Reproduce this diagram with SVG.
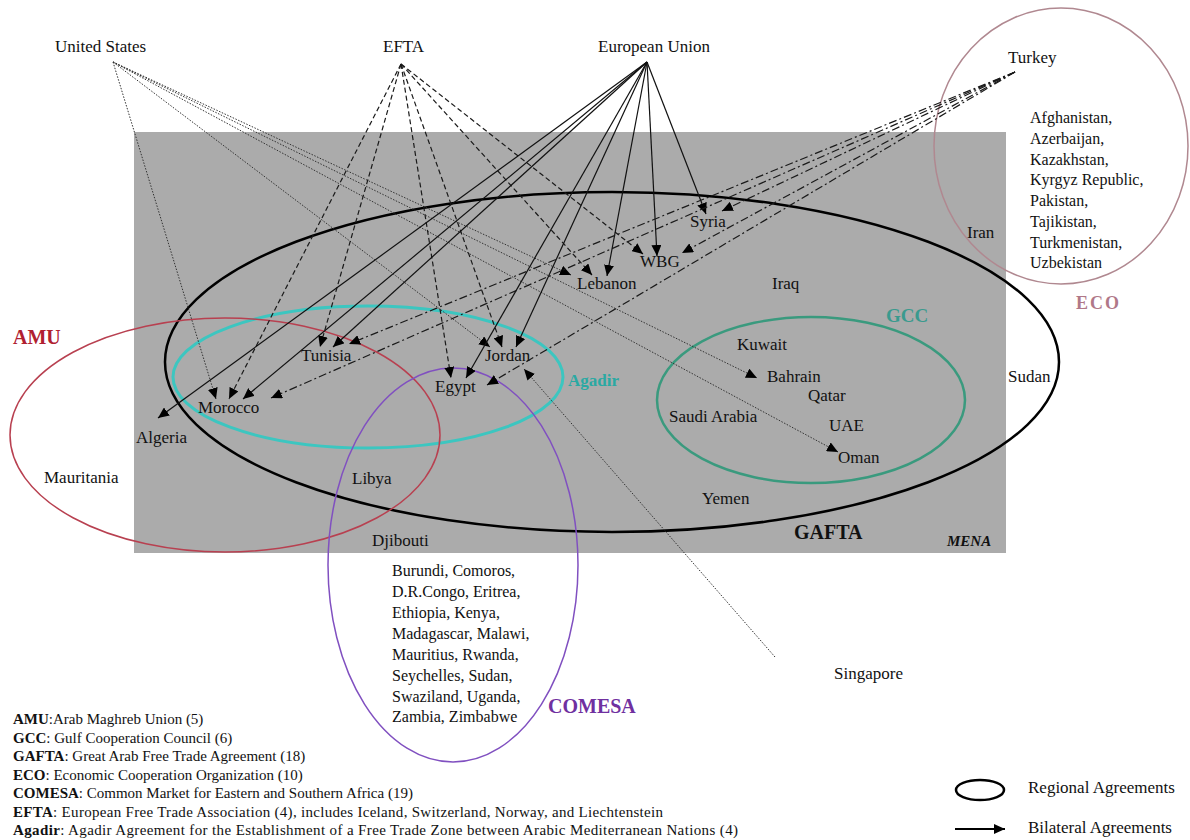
<svg xmlns="http://www.w3.org/2000/svg" width="1190" height="840" viewBox="0 0 1190 840">
<style>
text{font-family:"Liberation Serif","Times New Roman",serif;fill:#111}
.lbl{font-size:17px}
.lst{font-size:16px}
.leg{font-size:15px}
.reg{fill:none}
.us{stroke:#333;stroke-width:1;stroke-dasharray:1.5 1.5;fill:none}
.efta{stroke:#1a1a1a;stroke-width:1.2;stroke-dasharray:5 3;fill:none}
.eu{stroke:#111;stroke-width:1.2;fill:none}
.tr{stroke:#1a1a1a;stroke-width:1.2;stroke-dasharray:8 3 2 3;fill:none}
.sg{stroke:#333;stroke-width:1;stroke-dasharray:1.5 1.5;fill:none}
</style>
<defs>
<marker id="ah" markerUnits="userSpaceOnUse" markerWidth="12" markerHeight="10" refX="11" refY="5" orient="auto">
<path d="M0,0 L11,5 L0,10 z" fill="#000"/>
</marker>
</defs>
<rect width="1190" height="840" fill="#fff"/>
<g id="mena"><rect x="134" y="132" width="872" height="421" fill="#ababab"/>
<text x="947" y="546" style="font-size:15px;font-weight:bold;font-style:italic">MENA</text></g>

<g id="gafta"><ellipse class="reg" cx="612" cy="362" rx="447" ry="170" stroke="#000" stroke-width="2.5"/>
<text x="794" y="539" style="font-size:20px;font-weight:bold">GAFTA</text></g>
<g id="agadir"><ellipse class="reg" cx="368" cy="377" rx="195" ry="71" stroke="#3cc6c0" stroke-width="3"/>
<text x="568" y="386" style="font-size:17px;font-weight:bold;fill:#2aa9a3">Agadir</text></g>
<g id="gcc"><ellipse class="reg" cx="811" cy="400" rx="154" ry="83" stroke="#3a9a7e" stroke-width="2.5"/>
<text x="886" y="322" style="font-size:19px;font-weight:bold;fill:#3a9a8e">GCC</text></g>
<g id="amu"><ellipse class="reg" cx="225" cy="435" rx="215" ry="117" stroke="#b84050" stroke-width="1.5"/>
<text x="13" y="344" style="font-size:20px;font-weight:bold;fill:#b02030">AMU</text></g>
<g id="comesa"><ellipse class="reg" cx="453" cy="565" rx="125" ry="197" stroke="#8050c0" stroke-width="1.5"/>
<text x="548" y="713" style="font-size:20px;font-weight:bold;fill:#7030a0">COMESA</text></g>
<g id="eco"><ellipse class="reg" cx="1061" cy="146" rx="127" ry="138" stroke="#b08890" stroke-width="1.5"/>
<text x="1076" y="309" style="font-size:18px;font-weight:bold;fill:#b07888;letter-spacing:2px">ECO</text></g>

<g id="connectors">
<line class="us" x1="113" y1="62" x2="216" y2="399" marker-end="url(#ah)"/>
<line class="us" x1="113" y1="62" x2="490" y2="347" marker-end="url(#ah)"/>
<line class="us" x1="113" y1="62" x2="571" y2="275" marker-end="url(#ah)"/>
<line class="us" x1="113" y1="62" x2="757" y2="378" marker-end="url(#ah)"/>
<line class="us" x1="113" y1="62" x2="838" y2="452" marker-end="url(#ah)"/>
<line class="efta" x1="401" y1="64" x2="229" y2="399" marker-end="url(#ah)"/>
<line class="efta" x1="401" y1="64" x2="320" y2="347" marker-end="url(#ah)"/>
<line class="efta" x1="401" y1="64" x2="451" y2="378" marker-end="url(#ah)"/>
<line class="efta" x1="401" y1="64" x2="502" y2="347" marker-end="url(#ah)"/>
<line class="efta" x1="401" y1="64" x2="592" y2="275" marker-end="url(#ah)"/>
<line class="efta" x1="401" y1="64" x2="643" y2="254" marker-end="url(#ah)"/>
<line class="eu" x1="647" y1="62" x2="158" y2="418" marker-end="url(#ah)"/>
<line class="eu" x1="647" y1="62" x2="243" y2="399" marker-end="url(#ah)"/>
<line class="eu" x1="647" y1="62" x2="333" y2="347" marker-end="url(#ah)"/>
<line class="eu" x1="647" y1="62" x2="466" y2="378" marker-end="url(#ah)"/>
<line class="eu" x1="647" y1="62" x2="516" y2="347" marker-end="url(#ah)"/>
<line class="eu" x1="647" y1="62" x2="607" y2="276" marker-end="url(#ah)"/>
<line class="eu" x1="647" y1="62" x2="657" y2="256" marker-end="url(#ah)"/>
<line class="eu" x1="647" y1="62" x2="706" y2="214" marker-end="url(#ah)"/>
<line class="tr" x1="1015" y1="72" x2="722" y2="211" marker-end="url(#ah)"/>
<line class="tr" x1="1015" y1="72" x2="682" y2="253" marker-end="url(#ah)"/>
<line class="tr" x1="1015" y1="72" x2="349" y2="344" marker-end="url(#ah)"/>
<line class="tr" x1="1015" y1="72" x2="271" y2="398" marker-end="url(#ah)"/>
<line class="tr" x1="1015" y1="72" x2="487" y2="385" marker-end="url(#ah)"/>
<line class="sg" x1="775" y1="657" x2="524" y2="369" marker-end="url(#ah)"/>
</g>

<g id="n-us"><text class="lbl" x="55" y="52">United States</text></g>
<g id="n-efta"><text class="lbl" x="383" y="52">EFTA</text></g>
<g id="n-eu"><text class="lbl" x="598" y="52">European Union</text></g>
<g id="n-turkey"><text class="lbl" x="1008" y="63">Turkey</text></g>
<g id="n-eco-list"><text class="lst" x="1030" y="123">Afghanistan,</text>
<text class="lst" x="1030" y="144">Azerbaijan,</text>
<text class="lst" x="1030" y="165">Kazakhstan,</text>
<text class="lst" x="1030" y="185">Kyrgyz Republic,</text>
<text class="lst" x="1030" y="206">Pakistan,</text>
<text class="lst" x="1030" y="227">Tajikistan,</text>
<text class="lst" x="1030" y="248">Turkmenistan,</text>
<text class="lst" x="1030" y="268">Uzbekistan</text></g>
<g id="n-iran"><text class="lbl" x="967" y="238">Iran</text></g>
<g id="n-syria"><text class="lbl" x="690" y="227">Syria</text></g>
<g id="n-wbg"><text class="lbl" x="640" y="267">WBG</text></g>
<g id="n-lebanon"><text class="lbl" x="577" y="289">Lebanon</text></g>
<g id="n-iraq"><text class="lbl" x="772" y="289">Iraq</text></g>
<g id="n-kuwait"><text class="lbl" x="737" y="350">Kuwait</text></g>
<g id="n-bahrain"><text class="lbl" x="767" y="382">Bahrain</text></g>
<g id="n-qatar"><text class="lbl" x="808" y="401">Qatar</text></g>
<g id="n-saudi"><text class="lbl" x="669" y="422">Saudi Arabia</text></g>
<g id="n-uae"><text class="lbl" x="829" y="431">UAE</text></g>
<g id="n-oman"><text class="lbl" x="838" y="463">Oman</text></g>
<g id="n-sudan"><text class="lbl" x="1008" y="382">Sudan</text></g>
<g id="n-yemen"><text class="lbl" x="702" y="504">Yemen</text></g>
<g id="n-tunisia"><text class="lbl" x="301" y="361">Tunisia</text></g>
<g id="n-jordan"><text class="lbl" x="485" y="361">Jordan</text></g>
<g id="n-egypt"><text class="lbl" x="435" y="392">Egypt</text></g>
<g id="n-morocco"><text class="lbl" x="198" y="413">Morocco</text></g>
<g id="n-algeria"><text class="lbl" x="136" y="443">Algeria</text></g>
<g id="n-mauritania"><text class="lbl" x="44" y="483">Mauritania</text></g>
<g id="n-libya"><text class="lbl" x="352" y="484">Libya</text></g>
<g id="n-djibouti"><text class="lbl" x="372" y="546">Djibouti</text></g>
<g id="n-comesa-list"><text class="lst" x="392" y="576">Burundi, Comoros,</text>
<text class="lst" x="392" y="597">D.R.Congo, Eritrea,</text>
<text class="lst" x="392" y="618">Ethiopia, Kenya,</text>
<text class="lst" x="392" y="639">Madagascar, Malawi,</text>
<text class="lst" x="392" y="660">Mauritius, Rwanda,</text>
<text class="lst" x="392" y="681">Seychelles, Sudan,</text>
<text class="lst" x="392" y="702">Swaziland, Uganda,</text>
<text class="lst" x="392" y="722">Zambia, Zimbabwe</text></g>
<g id="n-singapore"><text class="lbl" x="834" y="679">Singapore</text></g>

<g id="legend-key">
<ellipse cx="980" cy="790" rx="24" ry="10" fill="none" stroke="#000" stroke-width="2.5"/>
<text class="lbl" x="1028" y="793">Regional Agreements</text>
<line x1="955" y1="829" x2="1005" y2="829" stroke="#000" stroke-width="2" marker-end="url(#ah)"/>
<text class="lbl" x="1028" y="833">Bilateral Agreements</text>
</g>
<g id="legend-abbr">
<text class="leg" x="13" y="724"><tspan font-weight="bold">AMU</tspan>:Arab Maghreb Union (5)</text>
<text class="leg" x="13" y="743"><tspan font-weight="bold">GCC</tspan>: Gulf Cooperation Council (6)</text>
<text class="leg" x="13" y="761"><tspan font-weight="bold">GAFTA</tspan>: Great Arab Free Trade Agreement (18)</text>
<text class="leg" x="13" y="780"><tspan font-weight="bold">ECO</tspan>: Economic Cooperation Organization (10)</text>
<text class="leg" x="13" y="798"><tspan font-weight="bold">COMESA</tspan>: Common Market for Eastern and Southern Africa (19)</text>
<text class="leg" x="13" y="817" textLength="650" lengthAdjust="spacing"><tspan font-weight="bold">EFTA</tspan>: European Free Trade Association (4), includes Iceland, Switzerland, Norway, and Liechtenstein</text>
<text class="leg" x="13" y="835" textLength="725" lengthAdjust="spacing"><tspan font-weight="bold">Agadir</tspan>: Agadir Agreement for the Establishment of a Free Trade Zone between Arabic Mediterranean Nations (4)</text>
</g>
</svg>
